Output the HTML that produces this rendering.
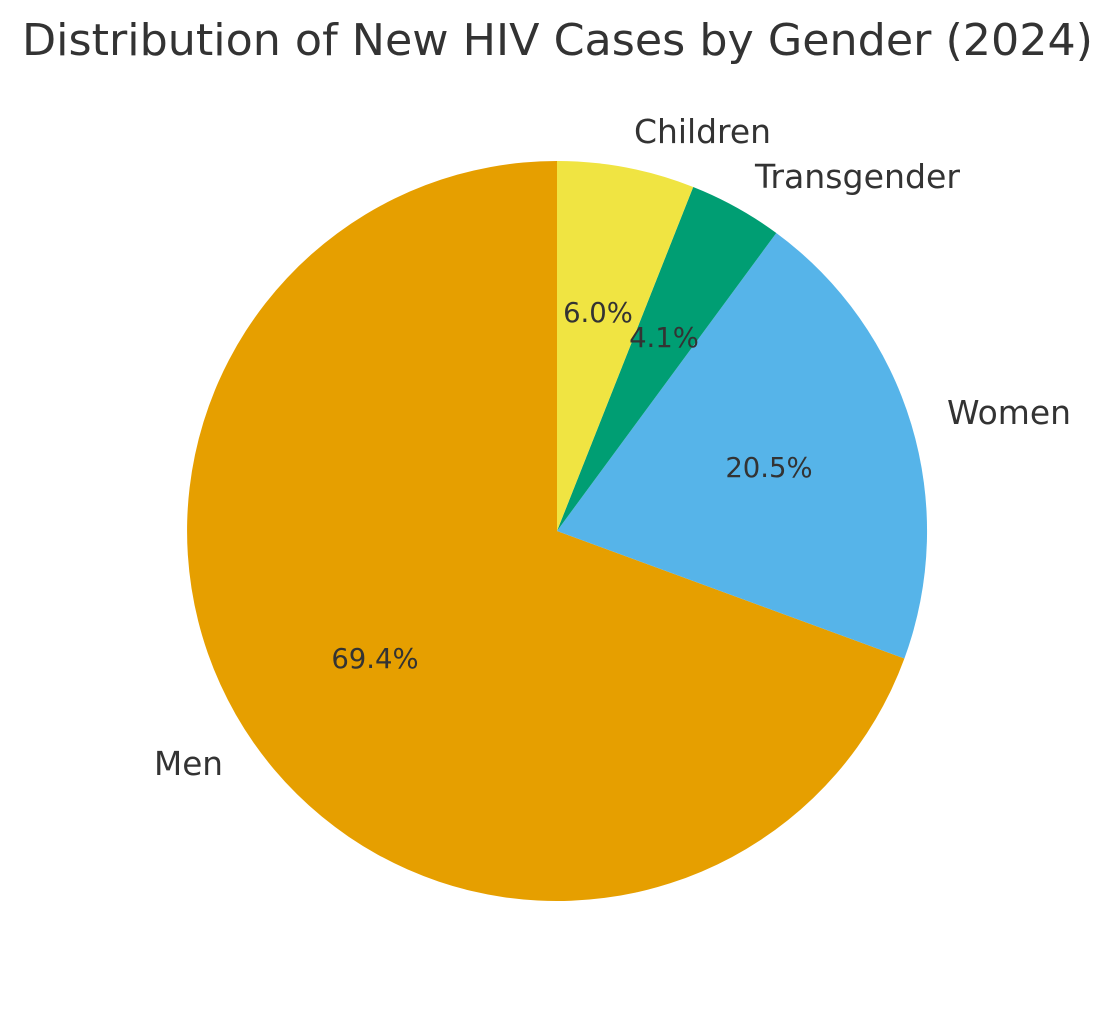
<!DOCTYPE html>
<html><head><meta charset="utf-8"><style>html,body{margin:0;padding:0;background:#fff}svg{display:block}</style></head>
<body>
<svg width="1114" height="1014" viewBox="0 0 1114 1014" xmlns="http://www.w3.org/2000/svg" font-family="DejaVu Sans, Liberation Sans, sans-serif" fill="#333333">
<rect width="1114" height="1014" fill="#fff"/>
<path d="M557,531 L557,161 A370,370 0 1 0 904.4,658.5 Z" fill="#E69F00"/>
<path d="M557,531 L904.4,658.5 A370,370 0 0 0 776.3,233 Z" fill="#56B4E9"/>
<path d="M557,531 L776.3,233 A370,370 0 0 0 693.2,187 Z" fill="#009E73"/>
<path d="M557,531 L693.2,187 A370,370 0 0 0 557,161 Z" fill="#F0E442"/>
<text x="22" y="55" font-size="44" textLength="1071" lengthAdjust="spacingAndGlyphs">Distribution of New HIV Cases by Gender (2024)</text>
<text x="634" y="143" font-size="32.5" textLength="137" lengthAdjust="spacingAndGlyphs">Children</text>
<text x="755" y="188" font-size="32.5" textLength="205" lengthAdjust="spacingAndGlyphs">Transgender</text>
<text x="947" y="424" font-size="32.5" textLength="124" lengthAdjust="spacingAndGlyphs">Women</text>
<text x="154" y="775" font-size="32.5" textLength="69" lengthAdjust="spacingAndGlyphs">Men</text>
<text x="598" y="322" font-size="27.5" text-anchor="middle">6.0%</text>
<text x="664" y="347" font-size="27.5" text-anchor="middle">4.1%</text>
<text x="769" y="477" font-size="27.5" text-anchor="middle">20.5%</text>
<text x="375" y="668" font-size="27.5" text-anchor="middle">69.4%</text>
</svg>
</body></html>
